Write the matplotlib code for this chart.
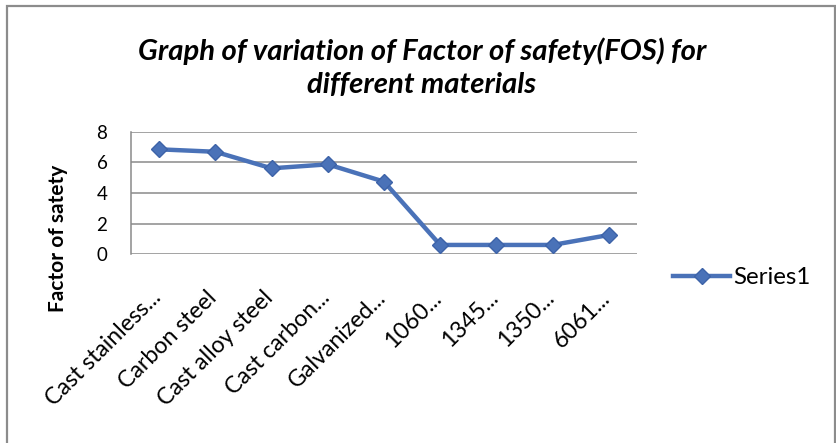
import matplotlib
matplotlib.use("Agg")
import matplotlib.pyplot as plt
from matplotlib.patches import Rectangle
from matplotlib.transforms import ScaledTranslation

plt.rcParams['font.family'] = ['Lato', 'DejaVu Sans']

# Factor of safety for each material
materials = ["Cast stainless...", "Carbon steel", "Cast alloy steel", "Cast carbon...",
             "Galvanized...", "1060...", "1345...", "1350...", "6061..."]
fos = [6.85, 6.69, 5.61, 5.87, 4.74, 0.61, 0.61, 0.61, 1.26]
yticks = [0, 2, 4, 6, 8]

W, H = 836, 443
fig = plt.figure(figsize=(W / 100, H / 100), dpi=100)
renderer = fig.canvas.get_renderer()


def fit_width(t, px):
    # scale a text's font so its drawn width is px pixels
    for _ in range(3):
        w = t.get_window_extent(renderer).width
        t.set_fontsize(t.get_fontsize() * px / w)


def px_to_fig(x, y):
    return x / W, 1 - y / H


# outer chart frame
fig.patches.append(Rectangle((7 / W, -0.01), (W - 8) / W, 1 - 6 / H + 0.01,
                             transform=fig.transFigure, fill=False,
                             edgecolor="#8c8c8c", linewidth=1.6))

ax = fig.add_axes([131 / W, 1 - 254.3 / H, 506 / W, 122.6 / H])
x = range(len(materials))
line, = ax.plot(x, fos, color="#4a72b8", linewidth=3.2, marker="D",
                markersize=8.5, markerfacecolor="#4a72b8", markeredgecolor="#3d63a8",
                label="Series1", zorder=3)

ax.set_xlim(-0.5, len(materials) - 0.5)
ax.set_ylim(0, 8)
ax.set_yticks(yticks)
ax.set_yticklabels([str(v) for v in yticks], fontsize=13.5)
ax.set_xticks(list(x))
ax.set_xticklabels(materials, rotation=45, ha="right", va="center",
                   rotation_mode="anchor", fontsize=14)
ax.tick_params(length=0)
ax.tick_params(axis="y", pad=17)
ax.tick_params(axis="x", pad=10)

ax.grid(axis="y", color="#8a8a8a", linewidth=1.1)
ax.set_axisbelow(True)
for side in ["top", "right", "bottom"]:
    ax.spines[side].set_visible(False)
ax.spines["left"].set_color("#8a8a8a")
ax.spines["left"].set_linewidth(1.1)

# size the category labels, then slide them into place
labels = ax.get_xticklabels()
fig.canvas.draw()
for _ in range(3):
    ext = labels[1].get_window_extent(renderer)
    fs = labels[1].get_fontsize() * 106 / ext.width
    for lab in labels:
        lab.set_fontsize(fs)
fig.canvas.draw()
ext = labels[1].get_window_extent(renderer)
dx = (221 - ext.x1) / 100
dy = ((H - 287) - ext.y1) / 100
for lab in labels:
    lab.set_transform(lab.get_transform() + ScaledTranslation(dx, dy, fig.dpi_scale_trans))

fig.text(*px_to_fig(58, 312), "Factor of satety", rotation=90, ha="left", va="center",
         rotation_mode="anchor", fontsize=15, fontweight="bold")

t1 = fig.text(*px_to_fig(422, 60), "Graph of variation of Factor of safety(FOS) for",
              ha="center", va="baseline", fontsize=18, fontweight="bold", fontstyle="italic")
t2 = fig.text(*px_to_fig(422, 93), "different materials",
              ha="center", va="baseline", fontsize=18, fontweight="bold", fontstyle="italic")
fit_width(t2, 228)
t1.set_fontsize(t2.get_fontsize())

# legend sized from its text
probe = fig.text(0, 0, "Series1", fontsize=14)
fit_width(probe, 77)
leg_fs = probe.get_fontsize()
probe.remove()
fs_px = leg_fs * 100 / 72
fig.legend(handles=[line], loc="center left", bbox_to_anchor=px_to_fig(673, 278),
           frameon=False, fontsize=leg_fs, handlelength=57 / fs_px,
           handletextpad=3 / fs_px, borderpad=0, borderaxespad=0)

fig.savefig("out.png", dpi=100)
